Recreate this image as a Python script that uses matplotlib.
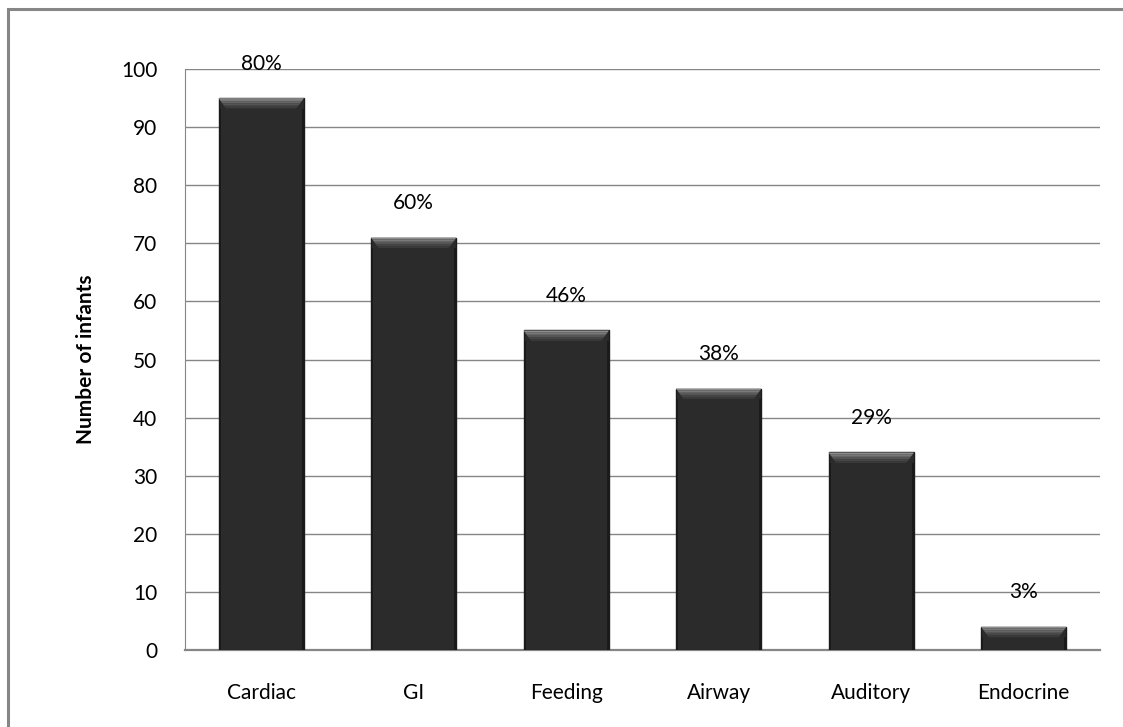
import numpy as np
import matplotlib.pyplot as plt
from matplotlib.patches import Polygon, Rectangle

# infants with each type of problem (n = 119)
categories = ["Cardiac", "GI", "Feeding", "Airway", "Auditory", "Endocrine"]
counts = [95, 71, 55, 45, 34, 4]
total = 119

plt.rcParams['font.family'] = ['Lato', 'DejaVu Sans']

fig = plt.figure(figsize=(11.23, 7.27), dpi=100)
ax = fig.add_axes([0.1647, 0.1059, 0.8148, 0.7991])

x = np.arange(len(categories))
width = 0.56
bars = ax.bar(x, counts, width, color="#2b2b2b", edgecolor="#1c1c1c",
              linewidth=1.0, zorder=3)

# bevel on top of each bar, drawn as stacked trapezoids getting darker downwards
bevel_h = 1.8
inset = 0.05
shades = ["#8c8c8c", "#7a7a7a", "#666666", "#555555", "#464646", "#3a3a3a"]
for xi, c in zip(x, counts):
    l, r = xi - width / 2, xi + width / 2
    n = len(shades)
    for k, sh in enumerate(shades):
        t0 = c - bevel_h * k / n
        t1 = c - bevel_h * (k + 1) / n
        i0 = inset * k / n
        i1 = inset * (k + 1) / n
        ax.add_patch(Polygon([(l + i0, t0), (r - i0, t0), (r - i1, t1), (l + i1, t1)],
                             closed=True, facecolor=sh, edgecolor="none", zorder=4))
    # darker side edges
    ax.add_patch(Rectangle((l, 0), 0.014, c - bevel_h, facecolor="#1a1a1a",
                           edgecolor="none", zorder=4))
    ax.add_patch(Rectangle((r - 0.014, 0), 0.014, c - bevel_h, facecolor="#1a1a1a",
                           edgecolor="none", zorder=4))
    ax.text(xi, c + 4.2, "%d%%" % round(100.0 * c / total), ha="center", va="bottom",
            fontsize=15, color="black", zorder=5)

ax.set_ylim(0, 100)
ax.set_xlim(-0.5, len(categories) - 0.5)
ax.set_yticks(np.arange(0, 101, 10))
ax.set_xticks(x)
ax.set_xticklabels(categories)
ax.tick_params(axis="both", length=0, labelsize=15, colors="black")
ax.tick_params(axis="y", pad=20)
ax.tick_params(axis="x", pad=24)
ax.yaxis.grid(True, color="#868686", linewidth=1.0, zorder=0)
ax.set_axisbelow(True)
for s in ["top", "right"]:
    ax.spines[s].set_visible(False)
ax.spines["left"].set_color("#868686")
ax.spines["bottom"].set_color("#868686")
ax.spines["bottom"].set_linewidth(1.6)
ax.set_ylabel("Number of infants", fontsize=15, fontweight="bold", labelpad=18)

# outer frame
fig.patches.append(Rectangle((8 / 1123, -0.05), 1.2, 1 - 9 / 727 + 0.05,
                             transform=fig.transFigure, fill=False,
                             edgecolor="#868686", linewidth=2.2))

fig.savefig("out.png", dpi=100)
